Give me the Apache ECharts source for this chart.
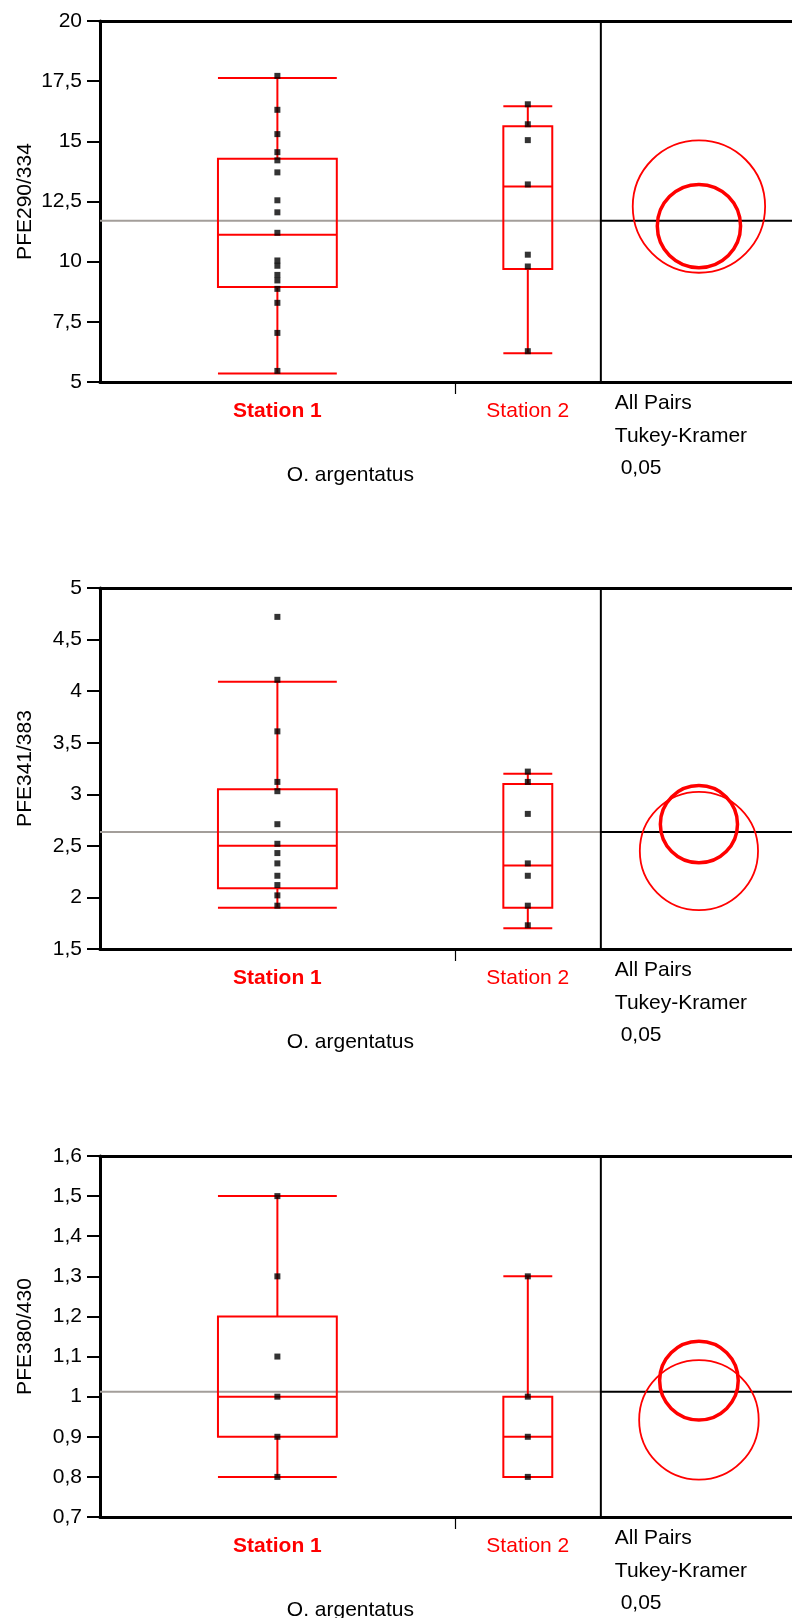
<!DOCTYPE html>
<html>
<head>
<meta charset="utf-8">
<title>O. argentatus – PFE ratios by station</title>
<script src="https://cdn.jsdelivr.net/npm/echarts@6/dist/echarts.min.js"></script>
<style>
  html, body { margin: 0; padding: 0; background: #ffffff; }
  #chart { width: 792px; height: 1618px; }
</style>
</head>
<body>
<div id="chart"></div>
<script>
// ---- data -------------------------------------------------------------
const groups = ['Station 1', 'Station 2'];
const groupSizes = [17, 7];
const speciesLabel = 'O. argentatus';
const testLines = ['All Pairs', 'Tukey-Kramer', ' 0,05'];

// PFE290/334
const p1Title = 'PFE290/334';
const p1Axis = [5, 20, 2.5];            // min, max, step
const p1Station1 = [17.72, 16.31, 15.30, 14.55, 14.21, 13.71, 12.55, 12.05, 11.20, 10.05, 9.83, 9.45, 9.22, 8.87, 8.29, 7.04, 5.46];
const p1Station2 = [16.54, 15.71, 15.05, 13.21, 10.29, 9.80, 6.28];
const p1Box1 = [5.35, 8.95, 11.12, 14.28, 17.63];   // low whisker, q1, median, q3, high whisker
const p1Box2 = [6.19, 9.70, 13.12, 15.63, 16.46];
const p1Means = [11.48, 12.29];
const p1Radii = [1.73, 2.75];
const p1GrandMean = 11.70;

// PFE341/383
const p2Title = 'PFE341/383';
const p2Axis = [1.5, 5, 0.5];
const p2Station1 = [4.72, 4.11, 3.61, 3.12, 3.03, 2.71, 2.52, 2.43, 2.33, 2.21, 2.12, 2.02, 1.92];
const p2Station2 = [3.22, 3.12, 2.81, 2.33, 2.21, 1.92, 1.73];
const p2Box1 = [1.90, 2.09, 2.50, 3.05, 4.09];
const p2Box2 = [1.70, 1.90, 2.31, 3.10, 3.20];
const p2Means = [2.71, 2.45];
const p2Radii = [0.374, 0.573];
const p2GrandMean = 2.635;

// PFE380/430
const p3Title = 'PFE380/430';
const p3Axis = [0.7, 1.6, 0.1];
const p3Station1 = [1.5, 1.3, 1.1, 1.0, 0.9, 0.8];
const p3Station2 = [1.3, 1.0, 0.9, 0.8];
const p3Box1 = [0.8, 0.9, 1.0, 1.2, 1.5];
const p3Box2 = [0.8, 0.8, 0.9, 1.0, 1.3];
const p3Means = [1.04, 0.942];
const p3Radii = [0.098, 0.149];
const p3GrandMean = 1.012;

// ---- layout -----------------------------------------------------------
const FONT = '"Liberation Sans", Arial, Helvetica, sans-serif';
const RED = '#ff0000';
const GREY = '#a39e9a';
const FS = 21;
const PLOT_LEFT = 100;
const PLOT_W = 692;
const PLOT_H = 361;
const PANEL_TOPS = [21, 588, 1156];
const MEANS_W = 9.16;           // visible width of the comparison-circle strip, in group units
const CIRCLE_OFFSET = 4.7;      // circle centre, measured from the strip's left edge
const BOX_FRAC = 0.335;         // box width relative to its group's slot

const total = groupSizes.reduce((a, b) => a + b, 0);
const XMAX = total + MEANS_W;
const unit = PLOT_W / XMAX;
const starts = groupSizes.map((_, i) => groupSizes.slice(0, i).reduce((a, b) => a + b, 0));
const centers = groupSizes.map((n, i) => starts[i] + n / 2);
const circleX = total + CIRCLE_OFFSET;

const panels = [
  { title: p1Title, axis: p1Axis, pts: [p1Station1, p1Station2], box: [p1Box1, p1Box2], means: p1Means, radii: p1Radii, gm: p1GrandMean },
  { title: p2Title, axis: p2Axis, pts: [p2Station1, p2Station2], box: [p2Box1, p2Box2], means: p2Means, radii: p2Radii, gm: p2GrandMean },
  { title: p3Title, axis: p3Axis, pts: [p3Station1, p3Station2], box: [p3Box1, p3Box2], means: p3Means, radii: p3Radii, gm: p3GrandMean }
];

const fmt = v => String(+v.toFixed(3)).replace('.', ',');

function renderBox(params, api) {
  const x = api.value(0), hw = api.value(1);
  const pLo = api.coord([x, api.value(2)]);
  const pQ1 = api.coord([x, api.value(3)]);
  const pMed = api.coord([x, api.value(4)]);
  const pQ3 = api.coord([x, api.value(5)]);
  const pHi = api.coord([x, api.value(6)]);
  const w = api.size([hw, 0])[0];
  const st = { stroke: RED, lineWidth: 2, fill: 'none' };
  const hline = (p) => ({ type: 'line', shape: { x1: p[0] - w, y1: p[1], x2: p[0] + w, y2: p[1] }, style: st });
  return {
    type: 'group',
    children: [
      { type: 'line', shape: { x1: pLo[0], y1: pLo[1], x2: pQ1[0], y2: pQ1[1] }, style: st },
      { type: 'line', shape: { x1: pQ3[0], y1: pQ3[1], x2: pHi[0], y2: pHi[1] }, style: st },
      hline(pLo),
      hline(pHi),
      { type: 'rect', shape: { x: pQ3[0] - w, y: pQ3[1], width: 2 * w, height: pQ1[1] - pQ3[1] }, style: st },
      hline(pMed)
    ]
  };
}

function makeRefRenderer(panel) {
  return function (params, api) {
    const gm = api.value(1);
    const a = api.coord([0, gm]);
    const b = api.coord([total, gm]);
    const c = api.coord([XMAX, gm]);
    const top = api.coord([total, panel.axis[1]]);
    const bot = api.coord([total, panel.axis[0]]);
    return {
      type: 'group',
      children: [
        { type: 'line', shape: { x1: a[0], y1: a[1], x2: b[0], y2: b[1] }, style: { stroke: GREY, lineWidth: 2 } },
        { type: 'line', shape: { x1: b[0], y1: b[1], x2: c[0], y2: c[1] }, style: { stroke: '#000', lineWidth: 2 } },
        { type: 'line', shape: { x1: top[0], y1: top[1], x2: bot[0], y2: bot[1] }, style: { stroke: '#000', lineWidth: 2 } }
      ]
    };
  };
}

function renderCircle(params, api) {
  const c = api.coord([api.value(0), api.value(1)]);
  const r = api.size([0, api.value(2)])[1];
  const bold = api.value(3) === 0;
  return {
    type: 'circle',
    shape: { cx: c[0], cy: c[1], r: r },
    style: { stroke: RED, fill: 'none', lineWidth: bold ? 3.5 : 1.8 }
  };
}

const grid = [], xAxis = [], yAxis = [], series = [], graphic = [];

panels.forEach((p, k) => {
  const top = PANEL_TOPS[k];
  const bottom = top + PLOT_H;
  grid.push({ left: PLOT_LEFT, top: top, width: PLOT_W, height: PLOT_H, containLabel: false });

  // bottom axis: station labels and the group boundary tick
  xAxis.push({
    type: 'value', gridIndex: k, min: 0, max: XMAX, position: 'bottom',
    axisLine: { onZero: false, lineStyle: { color: '#000', width: 3 } },
    axisTick: { show: true, customValues: [starts[1]], length: 12, lineStyle: { color: '#000', width: 1.2 } },
    axisLabel: {
      show: true, customValues: centers, margin: 29, verticalAlign: 'middle',
      formatter: v => {
        const i = centers.findIndex(c => Math.abs(c - v) < 1e-6);
        return i === 0 ? '{sel|' + groups[i] + '}' : '{reg|' + groups[i] + '}';
      },
      rich: {
        sel: { color: RED, fontWeight: 'bold', fontSize: FS, fontFamily: FONT },
        reg: { color: RED, fontSize: FS, fontFamily: FONT }
      }
    },
    splitLine: { show: false }
  });
  // top frame line
  xAxis.push({
    type: 'value', gridIndex: k, min: 0, max: XMAX, position: 'top',
    axisLine: { onZero: false, lineStyle: { color: '#000', width: 3 } },
    axisTick: { show: false }, axisLabel: { show: false }, splitLine: { show: false }
  });

  yAxis.push({
    type: 'value', gridIndex: k, min: p.axis[0], max: p.axis[1], interval: p.axis[2],
    name: p.title, nameLocation: 'middle', nameGap: 64, nameRotate: 90, nameMoveOverlap: false,
    nameTextStyle: { color: '#000', fontSize: FS, fontFamily: FONT },
    axisLine: { show: true, onZero: false, lineStyle: { color: '#000', width: 3 } },
    axisTick: { show: true, length: 13, lineStyle: { color: '#000', width: 2 } },
    axisLabel: { margin: 18, color: '#000', fontSize: FS, fontFamily: FONT, formatter: fmt },
    splitLine: { show: false }
  });

  const xi = 2 * k;

  series.push({
    type: 'custom', name: 'reference', xAxisIndex: xi, yAxisIndex: k,
    renderItem: makeRefRenderer(p), encode: { x: 0, y: 1 },
    data: [[total, p.gm]], z: 1, silent: true
  });

  series.push({
    type: 'custom', name: 'box', xAxisIndex: xi, yAxisIndex: k,
    renderItem: renderBox, encode: { x: 0, y: [2, 3, 4, 5, 6] },
    data: groups.map((g, i) => [centers[i], groupSizes[i] * BOX_FRAC / 2].concat(p.box[i])),
    z: 2, silent: true
  });

  series.push({
    type: 'custom', name: 'comparison circles', xAxisIndex: xi, yAxisIndex: k,
    renderItem: renderCircle, encode: { x: 0, y: 1 },
    data: groups.map((g, i) => [circleX, p.means[i], p.radii[i], i]),
    z: 2, silent: true
  });

  groups.forEach((g, i) => {
    series.push({
      type: 'scatter', name: g, xAxisIndex: xi, yAxisIndex: k,
      symbol: 'rect', symbolSize: 6,
      itemStyle: { color: '#000' },
      data: p.pts[i].map(v => [centers[i], v]),
      z: 3, silent: true
    });
  });

  // test description and species label below each panel
  const textX = PLOT_LEFT + total * unit + 14;
  const offsets = [21, 54, 86];
  testLines.forEach((t, j) => {
    graphic.push({
      type: 'text', x: textX, y: bottom + offsets[j], silent: true,
      style: { text: t, fill: '#000', font: FS + 'px ' + FONT, textAlign: 'left', textVerticalAlign: 'middle', align: 'left', verticalAlign: 'middle' }
    });
  });
  graphic.push({
    type: 'text', x: PLOT_LEFT + (total / 2) * unit, y: bottom + 93, silent: true,
    style: { text: speciesLabel, fill: '#000', font: FS + 'px ' + FONT, textAlign: 'center', textVerticalAlign: 'middle', align: 'center', verticalAlign: 'middle' }
  });
});

const chart = echarts.init(document.getElementById('chart'), null, { renderer: 'canvas', width: 792, height: 1618 });
chart.setOption({
  backgroundColor: '#ffffff',
  animation: false,
  grid, xAxis, yAxis, series, graphic
});
</script>
</body>
</html>
